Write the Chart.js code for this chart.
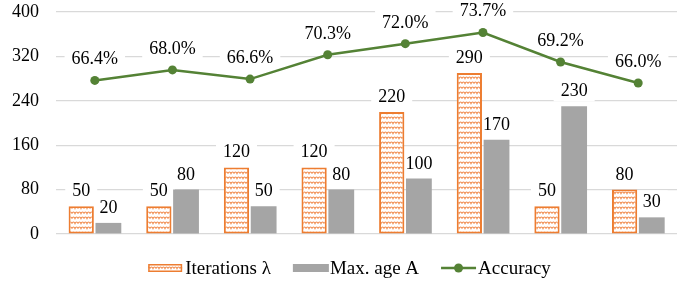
<!DOCTYPE html>
<html>
<head>
<meta charset="utf-8">
<script src="https://cdn.jsdelivr.net/npm/chart.js@4.4.1/dist/chart.umd.min.js"></script>
<style>
  html, body { margin: 0; padding: 0; background: #fff; }
  #wrap { width: 694px; height: 284px; }
</style>
</head>
<body>
<div id="wrap"><canvas id="c" width="694" height="284"></canvas></div>
<script>
// ---- data ----
const categories = ['1', '2', '3', '4', '5', '6', '7', '8'];
const iterations = [50, 50, 120, 120, 220, 290, 50, 80];
const maxAge = [20, 80, 50, 80, 100, 170, 230, 30];
const accuracy = [66.4, 68.0, 66.6, 70.3, 72.0, 73.7, 69.2, 66.0];
const yTicks = [0, 80, 160, 240, 320, 400];
const seriesNames = ['Iterations λ', 'Max. age A', 'Accuracy'];

const FONT = '"Liberation Serif", "Times New Roman", serif';
const ORANGE = '#ED7D31';
const GRAY = '#A5A5A5';
const GREEN = '#548235';

(function warmFont() {
  const s = document.createElement('span');
  s.style.cssText = 'font-family:"Liberation Serif",serif;font-size:18px;position:absolute;left:0;top:0;visibility:hidden;white-space:nowrap';
  s.textContent = '0123456789.% ' + seriesNames.join(' ');
  document.body.appendChild(s);
  void s.offsetWidth;
  s.remove();
})();

function makePattern() {
  const t = document.createElement('canvas');
  t.width = 6; t.height = 5;
  const g = t.getContext('2d');
  g.fillStyle = '#fff';
  g.fillRect(0, 0, 6, 5);
  g.strokeStyle = '#F0894A';
  g.lineWidth = 1.2;
  g.beginPath();
  g.moveTo(0, 3.6); g.quadraticCurveTo(1.5, 0.4, 3, 3.6); g.quadraticCurveTo(4.5, 0.4, 6, 3.6);
  g.stroke();
  return g.createPattern(t, 'repeat');
}

function labelItems(chart, c) {
  const out = [];
  chart.data.datasets.forEach((ds, di) => {
    const meta = chart.getDatasetMeta(di);
    meta.data.forEach((el, i) => {
      const isLine = ds.type === 'line';
      const txt = isLine ? ds.data[i].toFixed(1) + '%' : String(ds.data[i]);
      const base = isLine ? el.y - 16 : el.y - 10;
      out.push({ txt, x: el.x, base, w: c.measureText(txt).width });
    });
  });
  return out;
}

const labelPlugin = {
  id: 'valueLabels',
  beforeDatasetsDraw(chart) {
    const c = chart.ctx;
    c.save();
    c.font = '18px ' + FONT;
    c.fillStyle = '#fff';
    labelItems(chart, c).forEach(it => {
      c.fillRect(it.x - it.w / 2 - 7, it.base - 17, it.w + 14, 22);
    });
    c.restore();
  },
  afterDatasetsDraw(chart) {
    const c = chart.ctx;
    c.save();
    c.font = '18px ' + FONT;
    c.textAlign = 'center';
    c.textBaseline = 'alphabetic';
    c.fillStyle = '#000';
    labelItems(chart, c).forEach(it => c.fillText(it.txt, it.x, it.base));
    c.restore();
  }
};

const legendPlugin = {
  id: 'customLegend',
  afterDraw(chart) {
    const c = chart.ctx;
    c.save();
    c.font = '19px ' + FONT;
    c.textBaseline = 'middle';
    c.textAlign = 'left';
    const symW = 35, gapSym = 2, gapItem = 22;
    const widths = seriesNames.map(n => symW + gapSym + c.measureText(n).width);
    const total = widths.reduce((a, b) => a + b, 0) + gapItem * (widths.length - 1);
    let x = chart.width / 2 - total / 2 + 2.5;
    const yc = 268;
    seriesNames.forEach((n, i) => {
      if (i === 0) {
        c.fillStyle = chart.data.datasets[0].backgroundColor;
        c.fillRect(x, yc - 4, symW - 1, 8);
        c.strokeStyle = ORANGE; c.lineWidth = 1.5;
        c.strokeRect(x + 0.75, yc - 3.25, symW - 2.5, 6.5);
      } else if (i === 1) {
        c.fillStyle = GRAY;
        c.fillRect(x, yc - 4, symW + 1, 8);
      } else {
        c.strokeStyle = GREEN; c.lineWidth = 2.5;
        c.beginPath(); c.moveTo(x, yc); c.lineTo(x + symW, yc); c.stroke();
        c.fillStyle = GREEN;
        c.beginPath(); c.arc(x + symW / 2, yc, 4.5, 0, Math.PI * 2); c.fill();
      }
      c.fillStyle = '#000';
      c.fillText(n, x + symW + gapSym, yc + 1);
      x += widths[i] + gapItem;
    });
    c.restore();
  }
};

const pattern = makePattern();
const chart = new Chart(document.getElementById('c').getContext('2d'), {
  data: {
    labels: categories,
    datasets: [
      {
        type: 'bar', label: seriesNames[0], data: iterations,
        backgroundColor: pattern, borderColor: ORANGE, borderWidth: 2,
        borderSkipped: false, yAxisID: 'y', order: 2,
        categoryPercentage: 0.70, barPercentage: 0.93
      },
      {
        type: 'bar', label: seriesNames[1], data: maxAge,
        backgroundColor: GRAY, borderWidth: 0, yAxisID: 'y', order: 2,
        categoryPercentage: 0.70, barPercentage: 0.95
      },
      {
        type: 'line', label: seriesNames[2], data: accuracy,
        borderColor: GREEN, backgroundColor: GREEN, borderWidth: 2.5,
        pointRadius: 4.5, pointBackgroundColor: GREEN, pointBorderWidth: 0,
        tension: 0, yAxisID: 'y1', order: 1
      }
    ]
  },
  options: {
    responsive: false,
    animation: false,
    devicePixelRatio: 1,
    layout: { padding: { left: 0, right: 17, top: 12, bottom: 50 } },
    plugins: { legend: { display: false }, tooltip: { enabled: false } },
    scales: {
      x: { type: 'category', display: false },
      y: {
        type: 'linear', position: 'left', min: 0, max: 400,
        afterBuildTicks: s => { s.ticks = yTicks.map(v => ({ value: v })); },
        afterFit: s => { s.width = 56; s.paddingTop = 0; s.paddingBottom = 0; },
        grid: { color: '#D9D9D9', lineWidth: 1.25, drawTicks: false },
        border: { display: false },
        ticks: { padding: 17, color: '#000', font: { family: FONT, size: 18 } }
      },
      y1: { type: 'linear', display: false, min: 43, max: 76.82 }
    }
  },
  plugins: [labelPlugin, legendPlugin]
});
setTimeout(() => chart.update('none'), 50);
</script>
</body>
</html>
